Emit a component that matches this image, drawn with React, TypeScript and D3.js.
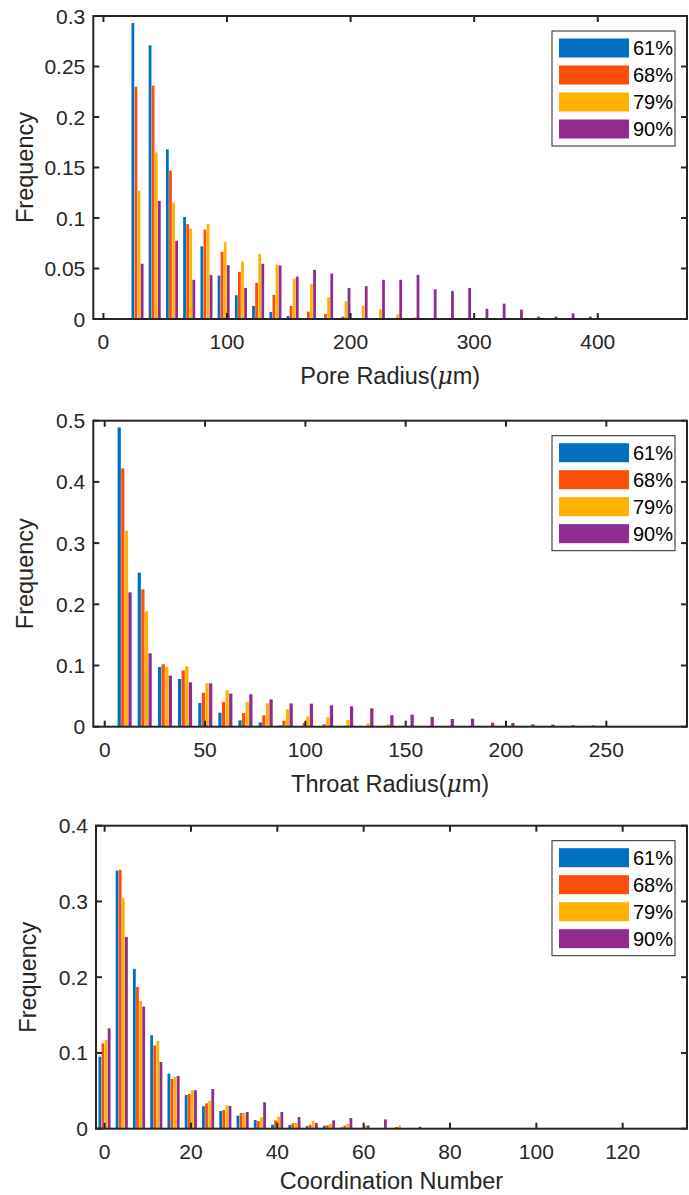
import React from 'react'
import * as d3 from 'd3'

const seriesNames = ['61%', '68%', '79%', '90%']
const colors = ['#0071C1', '#FC4F0A', '#FFB300', '#912C8F']

// pore radius histogram
const poreBins = [27.7, 41.6, 55.6, 69.5, 83.5, 97.4, 111.4, 125.3, 139.3, 153.2, 167.2, 181.1, 195.1, 209.0, 223.0, 236.9, 250.9, 264.8, 278.8, 292.7, 306.7, 320.6, 334.6, 348.5, 362.5, 376.4, 390.4, 404.3, 418.3, 432.2, 446.2]
const pore61 = [0.293, 0.271, 0.168, 0.101, 0.072, 0.043, 0.0235, 0.013, 0.007, 0.003, 0.001, 0, 0, 0, 0, 0, 0, 0, 0, 0, 0, 0, 0, 0, 0, 0, 0, 0, 0, 0, 0]
const pore68 = [0.23, 0.231, 0.147, 0.094, 0.0885, 0.0666, 0.0467, 0.0358, 0.0239, 0.0129, 0.0073, 0.005, 0.0023, 0.001, 0, 0, 0, 0, 0, 0, 0, 0, 0, 0, 0, 0, 0, 0, 0, 0, 0]
const pore79 = [0.127, 0.165, 0.1156, 0.0895, 0.0944, 0.0762, 0.057, 0.0643, 0.0537, 0.04, 0.0348, 0.0216, 0.0176, 0.0133, 0.0096, 0.0046, 0.0017, 0, 0.0008, 0, 0, 0, 0, 0, 0, 0, 0, 0, 0, 0, 0]
const pore90 = [0.0547, 0.117, 0.0775, 0.0388, 0.0437, 0.0533, 0.0308, 0.0547, 0.053, 0.042, 0.0487, 0.045, 0.0308, 0.0325, 0.0388, 0.0388, 0.0437, 0.0295, 0.0278, 0.0308, 0.0101, 0.0152, 0.0093, 0.0023, 0.0023, 0.0056, 0.0023, 0, 0, 0.001, 0]
const poreTicksX = [0, 100, 200, 300, 400]
const poreTicksY = [0, 0.05, 0.1, 0.15, 0.2, 0.25, 0.3]

// throat radius histogram
const throatBins = [10, 20, 30.1, 40.1, 50.2, 60.2, 70.2, 80.3, 90.3, 100.4, 110.4, 120.4, 130.5, 140.5, 150.6, 160.6, 170.6, 180.7, 190.7, 200.8, 210.8, 220.8, 230.9, 240.9]
const throat61 = [0.489, 0.2517, 0.0975, 0.078, 0.0387, 0.0229, 0.0104, 0.0071, 0.002, 0.0008, 0, 0, 0, 0, 0, 0, 0, 0, 0, 0, 0, 0, 0, 0]
const throat68 = [0.422, 0.2245, 0.102, 0.092, 0.0556, 0.0404, 0.0224, 0.0186, 0.0098, 0.006, 0.004, 0.001, 0, 0, 0, 0, 0, 0, 0, 0, 0, 0, 0, 0]
const throat79 = [0.32, 0.1885, 0.098, 0.0986, 0.0709, 0.0595, 0.0404, 0.0382, 0.0284, 0.017, 0.0154, 0.011, 0.0054, 0.004, 0.001, 0, 0, 0, 0, 0, 0, 0, 0, 0]
const throat90 = [0.2196, 0.12, 0.0834, 0.0725, 0.0709, 0.054, 0.053, 0.0447, 0.038, 0.0376, 0.035, 0.0333, 0.03, 0.0186, 0.0196, 0.0158, 0.0126, 0.0131, 0.0065, 0.006, 0.0037, 0.0035, 0.0025, 0.002]
const throatTicksX = [0, 50, 100, 150, 200, 250]
const throatTicksY = [0, 0.1, 0.2, 0.3, 0.4, 0.5]

// coordination number histogram
const coordBins = [0, 4, 8, 12, 16, 20, 24, 28, 32, 36, 40, 44, 48, 52, 56, 60, 64, 68, 72, 76, 80, 84, 88, 92, 96, 100, 104, 108, 112, 116, 120, 124, 128]
const coord61 = [0.0951, 0.3408, 0.211, 0.1234, 0.0727, 0.0445, 0.0296, 0.0234, 0.0172, 0.0115, 0.0053, 0.0049, 0.0035, 0.004, 0.0018, 0.001, 0, 0, 0, 0, 0, 0, 0, 0, 0, 0, 0, 0, 0, 0, 0, 0, 0]
const coord68 = [0.1128, 0.3418, 0.1872, 0.11, 0.0657, 0.0458, 0.0335, 0.0247, 0.0207, 0.0102, 0.011, 0.007, 0.0053, 0.0044, 0.004, 0.0013, 0, 0.0022, 0, 0, 0, 0, 0, 0, 0, 0, 0, 0, 0, 0, 0, 0, 0]
const coord79 = [0.117, 0.3043, 0.1687, 0.1159, 0.0683, 0.0511, 0.0366, 0.0309, 0.0207, 0.0154, 0.0159, 0.0075, 0.0101, 0.0062, 0.0066, 0.0044, 0, 0.0044, 0, 0, 0, 0, 0, 0, 0, 0, 0, 0, 0, 0, 0, 0, 0]
const coord90 = [0.1326, 0.2532, 0.1612, 0.0881, 0.0696, 0.0507, 0.0524, 0.03, 0.022, 0.0348, 0.022, 0.0154, 0.0075, 0.011, 0.0141, 0.0044, 0.0123, 0, 0.0026, 0, 0, 0, 0, 0, 0, 0, 0, 0, 0, 0, 0, 0, 0]
const coordTicksX = [0, 20, 40, 60, 80, 100, 120]
const coordTicksY = [0, 0.1, 0.2, 0.3, 0.4]

const FONT = '"Liberation Sans", Arial, Helvetica, sans-serif'
const AX = '#262626'

function Panel({ box, xDomain, yDomain, bins, series, xTicks, yTicks, xLabel, micro, labelGap = 65 }) {
  const { left, right, top, bottom } = box
  const x = d3.scaleLinear().domain(xDomain).range([left, right])
  const y = d3.scaleLinear().domain(yDomain).range([bottom, top])
  const step = x(bins[1]) - x(bins[0])
  const groupW = step * 0.72
  const slot = groupW / series.length
  const tl = 6
  const legTop = top + 15
  return (
    <g>
      {series.map((vals, j) => (
        <g key={j} fill={colors[j]}>
          {bins.map((b, i) => vals[i] > 0 ? (
            <rect key={i}
              x={x(b) - groupW / 2 + j * slot}
              y={y(vals[i])}
              width={slot * 0.9}
              height={y(0) - y(vals[i])} />
          ) : null)}
        </g>
      ))}
      <rect x={left} y={top} width={right - left} height={bottom - top} fill="none" stroke={AX} strokeWidth={2} />
      {xTicks.map(t => (
        <g key={t}>
          <line x1={x(t)} x2={x(t)} y1={bottom} y2={bottom - tl} stroke={AX} strokeWidth={2} />
          <line x1={x(t)} x2={x(t)} y1={top} y2={top + tl} stroke={AX} strokeWidth={2} />
          <text x={x(t)} y={bottom + 30} textAnchor="middle" fontSize={21} fill={AX} fontFamily={FONT}>{t}</text>
        </g>
      ))}
      {yTicks.map(t => (
        <g key={t}>
          <line x1={left} x2={left + tl} y1={y(t)} y2={y(t)} stroke={AX} strokeWidth={2} />
          <line x1={right} x2={right - tl} y1={y(t)} y2={y(t)} stroke={AX} strokeWidth={2} />
          <text x={left - 8} y={y(t) + 7.5} textAnchor="end" fontSize={21} fill={AX} fontFamily={FONT}>{String(t)}</text>
        </g>
      ))}
      <text transform={`translate(${left - 60},${(top + bottom) / 2}) rotate(-90)`} textAnchor="middle" fontSize={23.5} fill={AX} fontFamily={FONT}>Frequency</text>
      <text x={(left + right) / 2} y={bottom + labelGap} textAnchor="middle" fontSize={23.5} fill={AX} fontFamily={FONT}>
        {xLabel}{micro ? <><tspan>(</tspan><tspan fontStyle="italic" fontFamily="'DejaVu Serif', serif">μ</tspan><tspan>m)</tspan></> : null}
      </text>
      <rect x={552} y={legTop} width={123} height={115} fill="white" stroke={AX} strokeWidth={1} />
      {seriesNames.map((n, j) => (
        <g key={n}>
          <rect x={559} y={legTop + 7.5 + j * 27} width={70} height={19} fill={colors[j]} />
          <text x={633} y={legTop + 24 + j * 27} fontSize={20} fill="#000" fontFamily={FONT}>{n}</text>
        </g>
      ))}
    </g>
  )
}

export default function App() {
  return (
    <svg width={689} height={1195} style={{ position: 'absolute', left: 0, top: 0, background: 'white' }}>
      <Panel box={{ left: 93.3, right: 687, top: 16, bottom: 319 }} xDomain={[-8.2, 472.2]} yDomain={[0, 0.3]}
        bins={poreBins} series={[pore61, pore68, pore79, pore90]} xTicks={poreTicksX} yTicks={poreTicksY}
        xLabel="Pore Radius" micro />
      <Panel box={{ left: 93.3, right: 687, top: 420.7, bottom: 726.7 }} xDomain={[-5.7, 290.2]} yDomain={[0, 0.5]}
        bins={throatBins} series={[throat61, throat68, throat79, throat90]} xTicks={throatTicksX} yTicks={throatTicksY}
        xLabel="Throat Radius" micro />
      <Panel box={{ left: 96, right: 687, top: 825.7, bottom: 1128.7 }} xDomain={[-2.0, 134.9]} yDomain={[0, 0.4]}
        bins={coordBins} series={[coord61, coord68, coord79, coord90]} xTicks={coordTicksX} yTicks={coordTicksY}
        xLabel="Coordination Number" labelGap={60} />
    </svg>
  )
}
